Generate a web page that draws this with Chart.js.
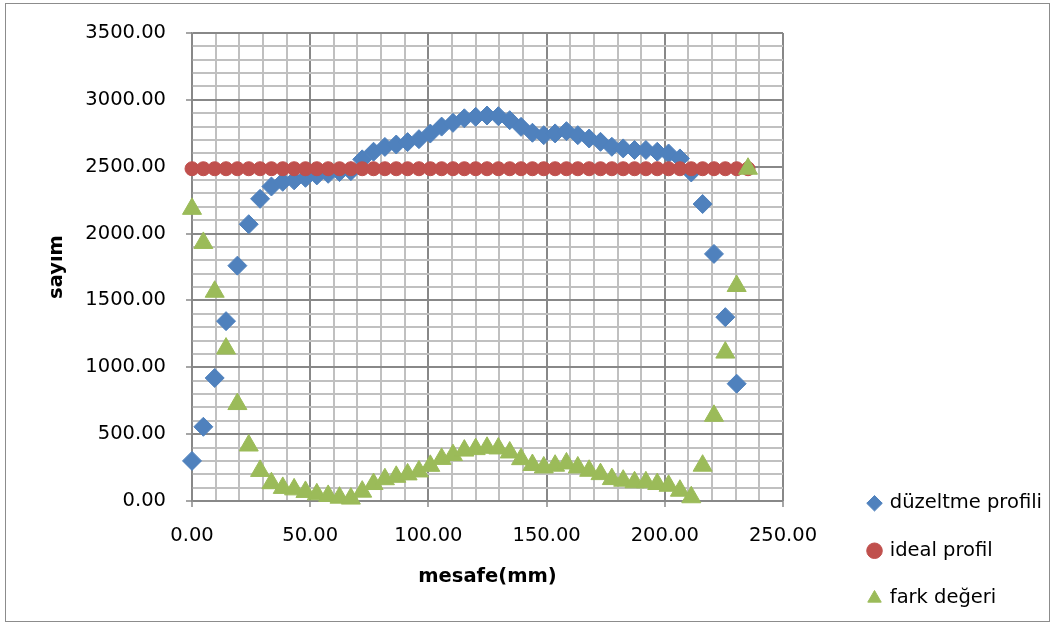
<!DOCTYPE html>
<html lang="tr">
<head>
<meta charset="UTF-8">
<title>düzeltme profili / ideal profil / fark değeri</title>
<script src="https://cdn.jsdelivr.net/npm/chart.js"></script>
<style>
  body { margin: 0; background: #fff; }
  #wrap { position: relative; width: 1054px; height: 623px; }
  #chart { position: absolute; left: 0; top: 0; }
  #frame { position: absolute; left: 5px; top: 3px; width: 1043px; height: 617px; border: 1px solid #8c8c8c; pointer-events: none; }
</style>
</head>
<body>
<div id="wrap">
  <canvas id="chart" width="1054" height="623"></canvas>
  <div id="frame"></div>
</div>
<script>
// x positions (mm)
const mesafe = [0, 4.8, 9.6, 14.4, 19.2, 24, 28.8, 33.6, 38.4, 43.2, 48, 52.8, 57.6, 62.4, 67.2, 72, 76.8, 81.6, 86.4, 91.2,
  96, 100.8, 105.6, 110.4, 115.2, 120, 124.8, 129.6, 134.4, 139.2, 144, 148.8, 153.6, 158.4, 163.2, 168, 172.8, 177.6, 182.4, 187.2,
  192, 196.8, 201.6, 206.4, 211.2, 216, 220.8, 225.6, 230.4, 235.2];

// düzeltme profili (one point less than the others)
const duzeltme = [300, 555, 920, 1345, 1760, 2070, 2260, 2352, 2387, 2398, 2417, 2435, 2447, 2460, 2467, 2555, 2612, 2648, 2666, 2684,
  2706, 2748, 2800, 2828, 2862, 2873, 2883, 2878, 2848, 2798, 2754, 2736, 2749, 2766, 2736, 2711, 2686, 2649, 2637, 2625,
  2625, 2612, 2599, 2562, 2457, 2221, 1848, 1375, 877];

const ideal = [2485, 2485, 2485, 2485, 2485, 2485, 2485, 2485, 2485, 2485, 2485, 2485, 2485, 2485, 2485, 2485, 2485, 2485, 2485, 2485,
  2485, 2485, 2485, 2485, 2485, 2485, 2485, 2485, 2485, 2485, 2485, 2485, 2485, 2485, 2485, 2485, 2485, 2485, 2485, 2485,
  2485, 2485, 2485, 2485, 2485, 2485, 2485, 2485, 2485, 2485];

const fark = [2185, 1930, 1565, 1140, 725, 415, 225, 133, 98, 87, 68, 50, 38, 25, 18, 70, 127, 163, 181, 199,
  221, 263, 315, 343, 377, 388, 398, 393, 363, 313, 269, 251, 264, 281, 251, 226, 201, 164, 152, 140,
  140, 127, 114, 77, 28, 264, 637, 1110, 1608, 2485];

const xTicks = { min: 0, max: 250, step: 10, major: 50 };
const yTicks = { min: 0, max: 3500, step: 100, major: 500 };

const pts = arr => arr.map((v, i) => ({ x: mesafe[i], y: v }));

// every minor step gets a tick (grid line), labels only on the major ones
const tickList = t => {
  const out = [];
  for (let v = t.min; v <= t.max; v += t.step) out.push({ value: v });
  return out;
};

const MAJOR = '#888888';
const MINOR = '#c0c0c0';
const isMajor = (c, t) => c.tick && c.tick.value % t.major === 0;

Chart.defaults.font.family = 'DejaVu Sans';
Chart.defaults.font.size = 19.5;
Chart.defaults.color = '#000';

// legend sits against the right edge, the plot area stops at 783px
const legendRight = {
  id: 'legendRight',
  afterLayout(chart) {
    const lg = chart.legend;
    if (!lg) return;
    const dx = chart.width - 2 - lg.right;
    lg.left += dx;
    lg.right += dx;
  }
};

const gridFor = t => ({
  color: c => (isMajor(c, t) ? MAJOR : MINOR),
  lineWidth: 2,
  tickColor: c => (isMajor(c, t) ? MAJOR : 'rgba(0,0,0,0)'),
  tickWidth: 1.5,
  tickLength: 6
});

new Chart(document.getElementById('chart'), {
  type: 'scatter',
  data: {
    datasets: [
      {
        label: 'düzeltme profili',
        data: pts(duzeltme),
        pointStyle: 'rectRot',
        pointRadius: 9.5,
        backgroundColor: '#4F81BD',
        borderColor: '#4F81BD',
        borderWidth: 1,
        clip: false,
        order: 3
      },
      {
        label: 'ideal profil',
        data: pts(ideal),
        pointStyle: 'circle',
        pointRadius: 7,
        backgroundColor: '#C0504D',
        borderColor: '#C0504D',
        borderWidth: 1,
        clip: false,
        order: 2
      },
      {
        label: 'fark değeri',
        data: pts(fark),
        pointStyle: 'triangle',
        pointRadius: 11,
        backgroundColor: '#9BBB59',
        borderColor: '#9BBB59',
        borderWidth: 1,
        clip: false,
        order: 1
      }
    ]
  },
  plugins: [legendRight],
  options: {
    responsive: false,
    animation: false,
    layout: { padding: { left: 0, top: 33, right: 0, bottom: -13 } },
    plugins: {
      tooltip: { enabled: false },
      legend: {
        position: 'right',
        align: 'end',
        labels: {
          usePointStyle: true,
          boxHeight: 11,
          boxWidth: 11,
          padding: 28,
          color: '#000',
          sort: (a, b) => a.datasetIndex - b.datasetIndex
        }
      }
    },
    scales: {
      x: {
        type: 'linear',
        min: xTicks.min,
        max: xTicks.max,
        afterBuildTicks: s => { s.ticks = tickList(xTicks); },
        afterFit: s => { s.height = 135; s.paddingRight = 271; },
        ticks: {
          autoSkip: false,
          maxRotation: 0,
          padding: 17,
          callback: v => (v % xTicks.major === 0 ? v.toFixed(2) : '')
        },
        grid: gridFor(xTicks),
        border: { color: MAJOR, width: 1.5 },
        title: {
          display: true,
          text: 'mesafe(mm)',
          font: { weight: 'bold' },
          padding: { top: 0, bottom: 47 }
        }
      },
      y: {
        type: 'linear',
        min: yTicks.min,
        max: yTicks.max,
        afterBuildTicks: s => { s.ticks = tickList(yTicks); },
        afterFit: s => { s.width = 192; },
        ticks: {
          autoSkip: false,
          padding: 20,
          callback: v => (v % yTicks.major === 0 ? v.toFixed(2) : '')
        },
        grid: gridFor(yTicks),
        border: { color: MAJOR, width: 1.5 },
        title: {
          display: true,
          text: 'sayım',
          font: { weight: 'bold' },
          padding: { top: 45, bottom: 0 }
        }
      }
    }
  }
});
</script>
</body>
</html>
